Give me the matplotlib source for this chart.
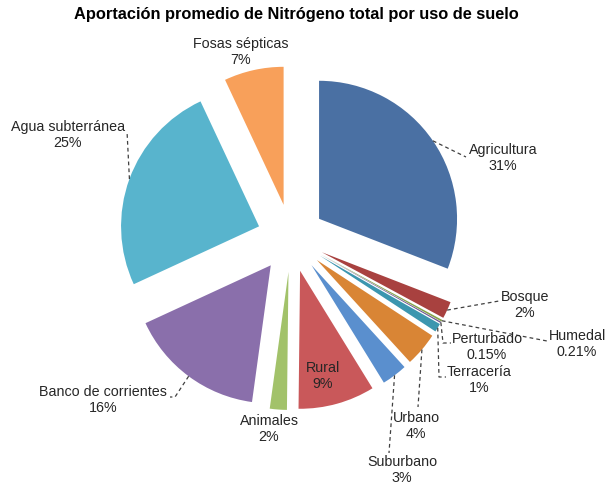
import math
import matplotlib
matplotlib.use("Agg")
import matplotlib.pyplot as plt

# datos (porcentaje de aportación por uso de suelo)
categorias = ['Agricultura', 'Bosque', 'Humedal', 'Perturbado', 'Terracería', 'Urbano',
              'Suburbano', 'Rural', 'Animales', 'Banco de corrientes', 'Agua subterránea',
              'Fosas sépticas']
porcentajes = [31, 2, 0.21, 0.15, 1, 4, 3, 9, 2, 16, 25, 7]
colores = ['#4a70a3', '#a8413f', '#86a44a', '#6e5690', '#3c96af', '#d98535',
           '#5a8fce', '#c9585a', '#a2c26a', '#8a6fab', '#58b4cd', '#f8a05a']

W, H = 609, 486
Y = lambda py: H - py  # pixel (desde arriba) -> coordenada del eje

# posicion del centro de cada etiqueta (pixeles) y puntos de la linea guia
pos_etiquetas = {
    'Agricultura': (503, 158), 'Bosque': (525, 305), 'Humedal': (577, 344),
    'Perturbado': (487, 347), 'Terracería': (479, 380), 'Urbano': (416, 426),
    'Suburbano': (402, 470), 'Rural': (323, 376), 'Animales': (269, 429),
    'Banco de corrientes': (103, 400), 'Agua subterránea': (68, 135),
    'Fosas sépticas': (241, 52),
}
guias = {
    'Agricultura': [(466, 157)],
    'Bosque': [(499, 301)],
    'Humedal': [(547, 341)],
    'Perturbado': [(443, 343), (451, 343)],
    'Terracería': [(439, 377), (446, 377)],
    'Urbano': [(418, 407)],
    'Suburbano': [(389, 453)],
    'Banco de corrientes': [(175, 397), (170, 397)],
    'Agua subterránea': [(127, 131)],
}

fig = plt.figure(figsize=(W / 100, H / 100), dpi=100)
ax = fig.add_axes([0, 0, 1, 1])

wedges, _ = ax.pie(porcentajes, colors=colores, startangle=90, counterclock=False,
                   radius=138, center=(291, Y(238)), explode=[34] * len(porcentajes),
                   wedgeprops=dict(linewidth=0))

ax.set_xlim(0, W)
ax.set_ylim(0, H)
ax.set_aspect('equal')
ax.axis('off')

fuente = 'Liberation Sans'
for w, nombre, valor in zip(wedges, categorias, porcentajes):
    px, py = pos_etiquetas[nombre]
    ax.text(px, Y(py), f"{nombre}\n{valor:g}%", ha='center', va='center',
            fontsize=10.3, family=fuente, color='#262626', linespacing=1.12)
    if nombre in guias:
        ang = math.radians((w.theta1 + w.theta2) / 2)
        cx, cy = w.center
        xs = [cx + w.r * math.cos(ang)] + [p[0] for p in guias[nombre]]
        ys = [cy + w.r * math.sin(ang)] + [Y(p[1]) for p in guias[nombre]]
        ax.plot(xs, ys, color='#404040', lw=0.9, ls=(0, (3, 2.5)))

ax.text(296, Y(15), 'Aportación promedio de Nitrógeno total por uso de suelo',
        ha='center', va='center', fontsize=11.8, fontweight='bold', family=fuente,
        color='black')

fig.savefig('out.png', dpi=100)
